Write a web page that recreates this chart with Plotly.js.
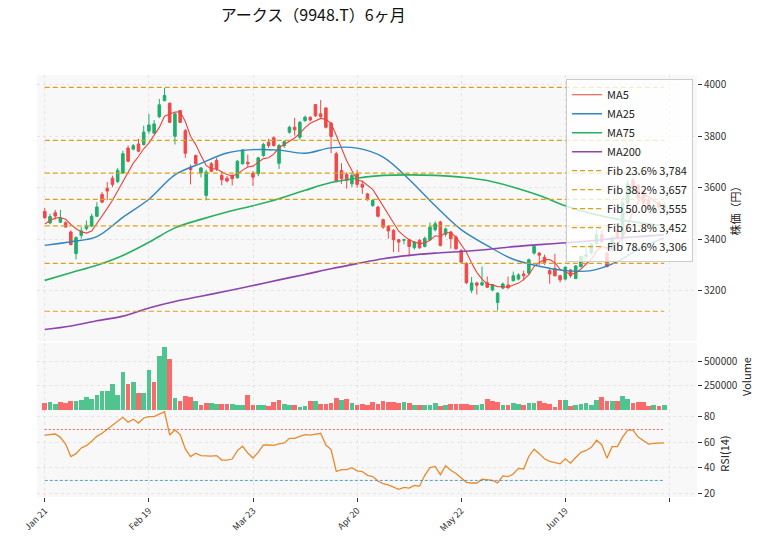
<!DOCTYPE html>
<html>
<head>
<meta charset="utf-8">
<script src="https://cdn.plot.ly/plotly-3.0.1.min.js"></script>
<style>html,body{margin:0;padding:0;background:#fff;}</style>
</head>
<body>
<div id="chart" style="width:764px;height:539px;"></div>
<script>
// ---- data ----
const tickPos = [0, 20, 40, 60, 80, 100, 120];
const tickLabels = ['Jan 21', 'Feb 19', 'Mar 23', 'Apr 20', 'May 22', 'Jun 19', ''];

const opens = [3508,3463,3503,3466,3464,3428,3344,3415,3441,3451,3489,3574,3598,3637,3624,3657,3754,3750,3770,3768,
3820,3812,3876,3938,3928,3800,3900,3822,3680,3725,3657,3570,3693,3706,3648,3637,3648,3639,3693,3699,
3657,3654,3725,3777,3794,3695,3763,3816,3835,3796,3861,3874,3923,3887,3910,3851,3732,3667,3651,3615,
3654,3613,3576,3531,3525,3476,3450,3434,3398,3396,3398,3367,3396,3372,3398,3437,3467,3419,3428,3408,
3357,3305,3202,3230,3222,3231,3203,3154,3210,3222,3239,3245,3265,3268,3346,3346,3330,3278,3286,3258,
3245,3280,3247,3294,3333,3346,3385,3417,3346,3359,3434,3405,3540,3628,3610,3585,3553,3510,3540,3520];
const highs = [3521,3499,3514,3514,3470,3434,3411,3447,3473,3499,3544,3583,3622,3647,3677,3744,3764,3770,3790,3841,
3887,3863,3945,3988,3932,3893,3902,3828,3690,3729,3680,3670,3700,3716,3665,3645,3652,3708,3750,3729,
3665,3720,3775,3790,3800,3770,3785,3841,3871,3860,3880,3877,3925,3941,3912,3855,3740,3695,3660,3656,
3670,3628,3580,3555,3530,3480,3455,3440,3400,3402,3402,3393,3400,3410,3465,3470,3472,3445,3432,3415,
3360,3310,3253,3235,3294,3255,3225,3195,3232,3255,3274,3268,3278,3325,3378,3350,3340,3285,3343,3262,
3295,3285,3300,3337,3378,3385,3437,3437,3350,3413,3440,3560,3630,3640,3615,3590,3560,3540,3548,3545];
const lows = [3480,3458,3476,3463,3445,3376,3321,3402,3434,3447,3486,3540,3551,3602,3618,3654,3699,3745,3738,3764,
3809,3809,3871,3936,3851,3768,3851,3716,3613,3690,3640,3551,3660,3665,3609,3620,3609,3635,3690,3680,
3607,3645,3720,3755,3760,3673,3755,3810,3803,3786,3855,3858,3875,3870,3830,3734,3620,3615,3596,3602,
3600,3576,3550,3525,3485,3440,3402,3350,3350,3380,3333,3360,3362,3368,3393,3430,3372,3410,3363,3358,
3305,3225,3191,3185,3218,3210,3197,3123,3205,3205,3235,3240,3240,3262,3340,3300,3300,3227,3255,3232,
3240,3250,3245,3290,3325,3340,3380,3385,3290,3350,3398,3366,3530,3590,3550,3530,3505,3500,3515,3512];
const closes = [3483,3488,3490,3482,3447,3379,3406,3432,3454,3489,3525,3544,3587,3613,3667,3732,3703,3763,3742,3816,
3844,3848,3922,3958,3854,3887,3854,3734,3670,3693,3677,3661,3664,3673,3631,3626,3635,3703,3747,3693,
3641,3716,3768,3764,3764,3764,3779,3835,3825,3854,3874,3863,3880,3876,3835,3799,3626,3635,3628,3648,
3613,3602,3553,3551,3489,3447,3432,3398,3389,3398,3372,3389,3367,3403,3447,3460,3376,3440,3402,3363,
3311,3231,3230,3221,3231,3213,3222,3190,3226,3212,3258,3261,3258,3320,3372,3338,3310,3265,3258,3242,
3291,3258,3296,3333,3340,3381,3417,3391,3294,3398,3404,3541,3615,3600,3560,3540,3515,3530,3525,3535];
const priorCloses = [3420, 3445, 3470, 3478];

const volumes = [74,84,67,84,77,95,95,106,137,116,158,194,201,264,158,391,264,285,172,180,
412,285,560,644,525,123,95,144,137,95,49,74,74,67,60,60,60,49,49,158,
49,49,49,39,81,102,60,49,49,32,46,95,95,60,60,70,123,102,113,74,
49,60,55,85,60,95,85,81,70,85,74,53,53,53,53,74,42,53,63,63,
63,63,53,53,63,113,95,85,53,53,74,67,53,74,70,95,74,67,32,106,
106,42,53,63,74,53,106,137,95,95,95,148,116,74,81,81,42,53,42,53].map(v => v * 1000);
const volUp = [0,1,1,0,0,0,1,1,1,1,1,1,1,1,1,1,0,1,0,1,
1,0,1,1,0,1,0,0,0,1,0,0,1,1,0,0,1,1,1,0,
0,1,1,0,0,0,1,1,0,1,1,0,1,0,0,0,0,1,0,1,
0,0,0,0,0,0,0,0,0,1,0,1,0,1,1,1,0,1,0,0,
0,0,0,1,1,0,0,0,1,0,1,1,0,1,1,0,0,0,0,0,
1,0,1,1,1,1,1,0,0,1,0,1,1,0,0,0,0,1,0,1];

const rsi = [65.6,66,66.4,63.8,58.6,48.7,51,55.5,57.3,60.7,64.6,67,70.3,73,76.5,79.5,75.6,78,75,79,
80,80,82,84,65.6,69.6,66,54.7,48.7,51.3,49.5,49,49,49.5,46,46,46.8,53.4,56.8,51.5,
47.6,52,57.8,57.8,57.5,58.6,59.4,63,63,64.6,66,65.6,66.4,67,57.8,54.2,37,38.5,38.5,40,
37.5,37,34,33,29.5,27.5,26.5,25,23,24.5,24,26,25.5,34,40,41,34.5,41.5,38,35.5,
32,28.5,28,28,31,30.5,30,28,33.5,33,35,39.5,39,49,54.5,51,47,45,44,43,
47,43.5,48,52,53.5,56,61.5,58,47.5,56.5,56.5,64,69.5,69.5,64,61,58.5,59,59,59.5];

const maIdx = [0,5,10,15,20,25,30,35,40,45,50,55,60,65,70,75,80,85,90,95,100,105,110,115,119];
const ma25 = [3376,3390,3410,3485,3555,3650,3695,3735,3748,3746,3734,3755,3754,3719,3632,3530,3437,3375,3322,3295,3278,3278,3313,3372,3404];
const ma75 = [3240,3270,3299,3337,3388,3444,3477,3506,3530,3557,3590,3620,3637,3648,3650,3648,3641,3628,3602,3570,3530,3500,3478,3462,3452];
const ma200 = [3049,3063,3083,3101,3133,3158,3178,3199,3220,3242,3263,3285,3305,3324,3337,3346,3352,3360,3371,3379,3386,3394,3404,3411,3417];

const fibPct = [0, 23.6, 38.2, 50.0, 61.8, 78.6, 100];
const fibPrice = [3990, 3784, 3657, 3555, 3452, 3306, 3120];

// ---- build ----
const n = closes.length;
const idx = closes.map((_, i) => i);
const allC = priorCloses.concat(closes);
const ma5 = closes.map((_, i) => {
  let s = 0; for (let k = 0; k < 5; k++) s += allC[i + k]; return s / 5;
});
const fmt = v => String(v).replace(/\B(?=(\d{3})+(?!\d))/g, ',');

const GREEN = '#1fae6b', RED = '#f04848';
const traces = [];
traces.push({
  type: 'candlestick', x: idx, open: opens, high: highs, low: lows, close: closes,
  xaxis: 'x', yaxis: 'y', showlegend: false, hoverinfo: 'skip', whiskerwidth: 0,
  increasing: {line: {color: GREEN, width: 1}, fillcolor: GREEN},
  decreasing: {line: {color: RED, width: 1}, fillcolor: RED}
});
traces.push({type:'scatter', mode:'lines', x: idx, y: ma5, name:'MA5', line:{color:'#e8453c', width:1.1}, yaxis:'y', hoverinfo:'skip'});
traces.push({type:'scatter', mode:'lines', x: maIdx, y: ma25, name:'MA25', line:{color:'#2f86c0', width:1.4, shape:'spline'}, yaxis:'y', hoverinfo:'skip'});
traces.push({type:'scatter', mode:'lines', x: maIdx, y: ma75, name:'MA75', line:{color:'#27b05e', width:1.6, shape:'spline'}, yaxis:'y', hoverinfo:'skip'});
traces.push({type:'scatter', mode:'lines', x: maIdx, y: ma200, name:'MA200', line:{color:'#8e44ad', width:1.6, shape:'spline'}, yaxis:'y', hoverinfo:'skip'});
fibPct.forEach((p, k) => {
  const show = p > 0 && p < 100;
  traces.push({type:'scatter', mode:'lines', x:[0, n - 1], y:[fibPrice[k], fibPrice[k]],
    name: 'Fib ' + p.toFixed(1) + '% ' + fmt(fibPrice[k]), showlegend: show,
    line:{color:'#d9a21b', width:1.2, dash:'5px,3px'}, yaxis:'y', hoverinfo:'skip'});
});
traces.push({type:'bar', x: idx, y: volumes, yaxis:'y2', width: 0.9, showlegend:false, hoverinfo:'skip',
  marker:{color: volUp.map(u => u ? '#4fc48f' : '#fb6a6a'), line:{width:0}}});
traces.push({type:'scatter', mode:'lines', x: idx, y: rsi, yaxis:'y3', showlegend:false, hoverinfo:'skip',
  line:{color:'#e8892c', width:1.3}});
traces.push({type:'scatter', mode:'lines', x:[0, n - 1], y:[70, 70], yaxis:'y3', showlegend:false, hoverinfo:'skip',
  line:{color:'#e8453c', width:0.8, dash:'2px,2px'}});
traces.push({type:'scatter', mode:'lines', x:[0, n - 1], y:[30, 30], yaxis:'y3', showlegend:false, hoverinfo:'skip',
  line:{color:'#2f86c0', width:0.8, dash:'3px,2px'}});

const gridY = {showgrid:true, gridcolor:'#e0e0e0', griddash:'3px,3px', gridwidth:0.8, zeroline:false,
  side:'right', ticks:'outside', ticklen:4, tickcolor:'#333', anchor:'x',
  tickfont:{size:10, color:'#333'}, showline:false};

const layout = {
  width: 764, height: 539,
  margin: {l:37, r:67, t:75, b:42},
  paper_bgcolor: '#ffffff', plot_bgcolor: '#f8f8f8',
  font: {family: '"Noto Sans CJK JP", "DejaVu Sans", sans-serif', size: 10, color: '#333'},
  title: {text: 'アークス（9948.T）6ヶ月', xref:'container', x: 0.41, xanchor:'center',
    yref:'container', y: 0.972, yanchor:'middle', font:{size:16, color:'#111'}},
  showlegend: true,
  legend: {x: 0.994, xanchor:'right', y: 0.99, yanchor:'top', bgcolor:'rgba(255,255,255,0.78)',
    bordercolor:'#cccccc', borderwidth:1, font:{size:11, color:'#222'}, tracegroupgap:0},
  xaxis: {range:[-1.5, 125.3], tickvals: tickPos, ticktext: tickLabels, tickangle:-45,
    ticks:'outside', ticklen:4, tickcolor:'#333', showgrid:true, gridcolor:'#e0e0e0', griddash:'3px,3px', gridwidth:0.8,
    zeroline:false, anchor:'y3', rangeslider:{visible:false}, tickfont:{size:9, color:'#333'}},
  yaxis: Object.assign({}, gridY, {domain:[0.37, 1], range:[3005, 4038], tickvals:[3200,3400,3600,3800,4000],
    title:{text:'株価（円）', font:{size:11, color:'#222'}, standoff:4}}),
  yaxis2: Object.assign({}, gridY, {domain:[0.206, 0.365], range:[0, 690000], tickvals:[250000, 500000],
    ticktext:['250000','500000'], title:{text:'Volume', font:{size:11, color:'#222'}, standoff:4}}),
  yaxis3: Object.assign({}, gridY, {domain:[0, 0.206], range:[17, 85.2], tickvals:[20,40,60,80],
    title:{text:'RSI(14)', font:{size:11, color:'#222'}, standoff:4}}),
  bargap: 0
};

Plotly.newPlot('chart', traces, layout, {displayModeBar:false, staticPlot:true});
</script>
</body>
</html>
